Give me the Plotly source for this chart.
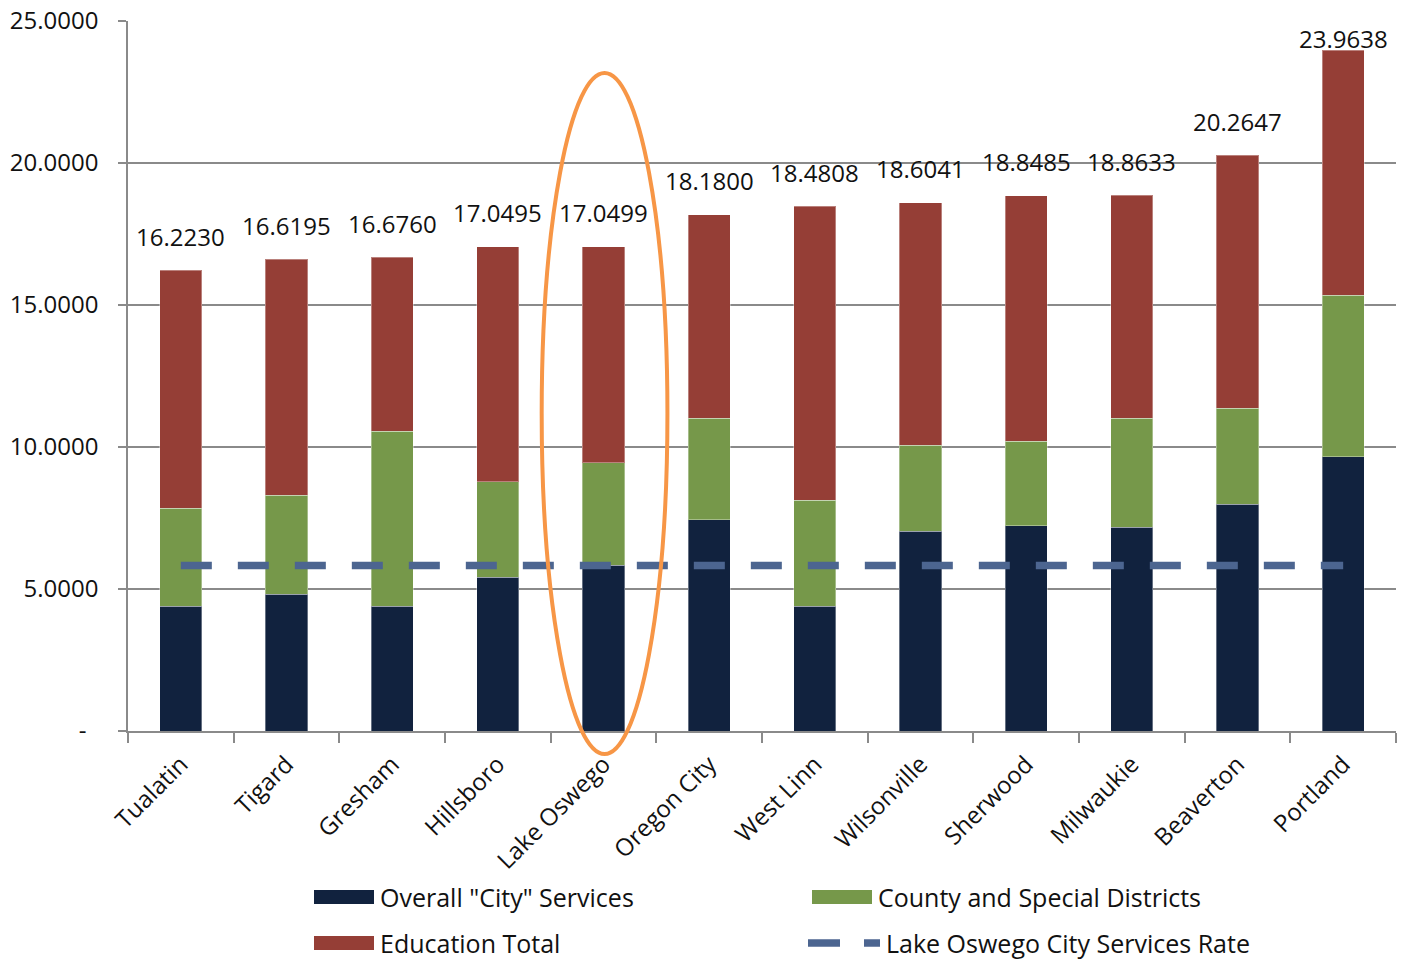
import plotly.graph_objects as go

categories = ["Tualatin", "Tigard", "Gresham", "Hillsboro", "Lake Oswego", "Oregon City",
              "West Linn", "Wilsonville", "Sherwood", "Milwaukie", "Beaverton", "Portland"]
city_services = [4.40, 4.82, 4.40, 5.42, 5.83, 7.43, 4.40, 7.04, 7.22, 7.18, 7.99, 9.65]
county_special = [3.45, 3.49, 6.16, 3.35, 3.61, 3.59, 3.73, 3.03, 2.99, 3.84, 3.38, 5.70]
totals = [16.2230, 16.6195, 16.6760, 17.0495, 17.0499, 18.1800, 18.4808, 18.6041,
          18.8485, 18.8633, 20.2647, 23.9638]
total_labels = ["16.2230", "16.6195", "16.6760", "17.0495", "17.0499", "18.1800",
                "18.4808", "18.6041", "18.8485", "18.8633", "20.2647", "23.9638"]
education = [round(t - c - s, 4) for t, c, s in zip(totals, city_services, county_special)]
lo_rate = [5.83] * len(categories)
y_tickvals = [0, 5, 10, 15, 20, 25]
y_ticktext = ["-\u2002", "5.0000", "10.0000", "15.0000", "20.0000", "25.0000"]
legend_names = ['Overall "City" Services', "County and Special Districts",
                "Education Total", "Lake Oswego City Services Rate"]

NAVY = "#11223E"
GREEN = "#76984A"
RED = "#953E36"
DASH = "#4C6590"
ORANGE = "#F79646"
GRID = "#8A8A8A"
FONT = "Open Sans"
TXT = "#111111"

# the page body adds an 8px margin around the figure
OX, OY = 8, 8
VW, VH = 1407, 959
W, H = VW - 2 * OX, VH - OY
# target plot area in window pixels
PL, PR, PT, PB = 128, 1396, 21, 731
ML, MT = PL - OX, PT - OY
MR = W - (PR - OX)
MB = H - (PB - OY)
PW = PR - PL
PH = PB - PT
YMAX = 25.0
N = len(categories)


def px_to_paper_x(px):
    return (px - PL) / PW


def px_to_paper_y(py):
    return (PB - py) / PH


def cat_to_paper_x(idx):
    return (idx + 0.5) / N


def val_to_paper_y(v):
    return v / YMAX


fig = go.Figure()
edge = dict(color="rgba(255,255,255,0.35)", width=1)
fig.add_bar(x=categories, y=city_services, name=legend_names[0], marker_color=NAVY,
            marker_line=edge)
fig.add_bar(x=categories, y=county_special, name=legend_names[1], marker_color=GREEN,
            marker_line=edge)
fig.add_bar(x=categories, y=education, name=legend_names[2], marker_color=RED,
            marker_line=edge)
fig.add_scatter(x=categories, y=lo_rate, mode="lines", name=legend_names[3],
                line=dict(color=DASH, width=7.5, dash="31px,26px"))

annotations = []
for i, (t, lab) in enumerate(zip(totals, total_labels)):
    top_px = PT + (YMAX - t) / YMAX * PH
    center_px = max(top_px - 34, 38)
    annotations.append(dict(x=categories[i], y=t, xref="x", yref="y", text=lab,
                            showarrow=False, yanchor="middle",
                            yshift=top_px - center_px,
                            font=dict(family=FONT, size=24, color=TXT)))

shapes = []
# Highlight ellipse around Lake Oswego
hi = categories.index("Lake Oswego")
shapes.append(dict(type="circle", xref="paper", yref="paper",
                   x0=cat_to_paper_x(hi - 0.585), x1=cat_to_paper_x(hi + 0.605),
                   y0=val_to_paper_y(-0.81), y1=val_to_paper_y(23.17),
                   line=dict(color=ORANGE, width=4), layer="above"))

# Custom legend
legend_items = [
    (legend_names[0], "rect", NAVY, 314, 897),
    (legend_names[1], "rect", GREEN, 812, 897),
    (legend_names[2], "rect", RED, 314, 943),
    (legend_names[3], "dash", DASH, 808, 943),
]
for name, kind, color, x0px, ycpx in legend_items:
    if kind == "rect":
        shapes.append(dict(type="rect", xref="paper", yref="paper",
                           x0=px_to_paper_x(x0px), x1=px_to_paper_x(x0px + 60),
                           y0=px_to_paper_y(ycpx + 7), y1=px_to_paper_y(ycpx - 7),
                           fillcolor=color, line=dict(width=0)))
        tx = x0px + 64
    else:
        for a, b in [(x0px, x0px + 32), (x0px + 56, x0px + 72)]:
            shapes.append(dict(type="line", xref="paper", yref="paper",
                               x0=px_to_paper_x(a), x1=px_to_paper_x(b),
                               y0=px_to_paper_y(ycpx), y1=px_to_paper_y(ycpx),
                               line=dict(color=color, width=7.5)))
        tx = x0px + 76
    annotations.append(dict(x=px_to_paper_x(tx), y=px_to_paper_y(ycpx), xref="paper",
                            yref="paper", text=name, showarrow=False, xanchor="left",
                            yanchor="middle",
                            font=dict(family=FONT, size=25, color=TXT)))

fig.update_layout(
    width=W, height=H,
    margin=dict(l=ML, r=MR, t=MT, b=MB, pad=0),
    barmode="stack", bargap=0.6,
    plot_bgcolor="white", paper_bgcolor="white",
    showlegend=False,
    font=dict(family=FONT, size=24, color=TXT),
    annotations=annotations, shapes=shapes,
    xaxis=dict(showline=True, linecolor=GRID, linewidth=1.5, ticks="outside",
               tickson="boundaries", ticklen=10, tickcolor=GRID, tickwidth=1.5,
               tickangle=-45, showgrid=False, automargin=False,
               ticklabelstandoff=8,
               tickfont=dict(family=FONT, size=24, color=TXT)),
    yaxis=dict(range=[0, YMAX], tickvals=y_tickvals, ticktext=y_ticktext,
               showline=True, linecolor=GRID, linewidth=1.5, ticks="outside",
               ticklen=8, tickcolor=GRID, tickwidth=1.5, showgrid=True,
               gridcolor=GRID, gridwidth=1.5, zeroline=False, automargin=False,
               ticklabelstandoff=15, ticklabeloverflow="allow",
               tickfont=dict(family=FONT, size=24, color=TXT)),
)

fig.write_html("out.html")
